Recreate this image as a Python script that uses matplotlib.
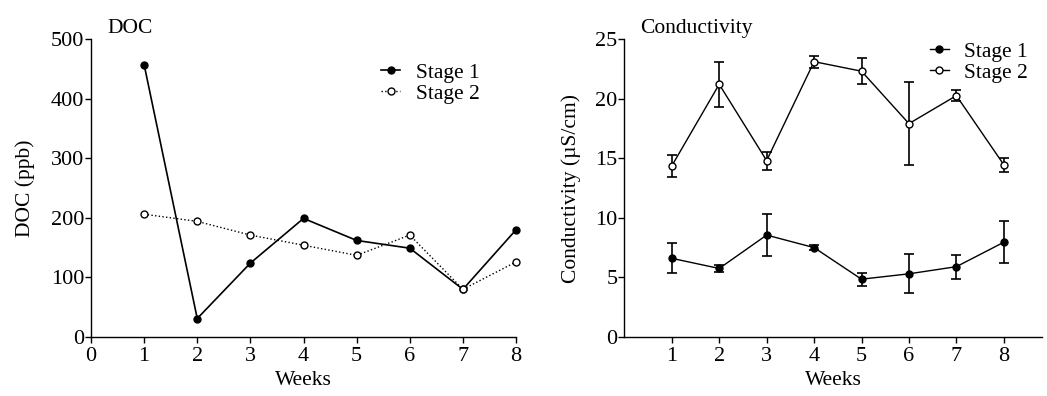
import matplotlib.pyplot as plt
import numpy as np

plt.rcParams['font.family'] = ['Liberation Serif', 'DejaVu Serif']

weeks = [1, 2, 3, 4, 5, 6, 7, 8]

# DOC (ppb)
doc_stage1 = [457, 31, 124, 199, 162, 149, 80, 180]
doc_stage2 = [206, 194, 171, 154, 137, 171, 80, 126]

# Conductivity (uS/cm) with error bars
cond_stage1 = [6.6, 5.75, 8.55, 7.5, 4.85, 5.3, 5.9, 7.95]
cond_stage1_err = [1.25, 0.3, 1.75, 0.2, 0.55, 1.65, 1.0, 1.75]
cond_stage2 = [14.35, 21.2, 14.8, 23.1, 22.3, 17.9, 20.25, 14.45]
cond_stage2_err = [0.9, 1.9, 0.75, 0.5, 1.1, 3.5, 0.45, 0.6]

FS = 15.5

fig = plt.figure(figsize=(10.47, 3.96), dpi=100)
ax1 = fig.add_axes([0.0869, 0.149, 0.406, 0.7525])
ax2 = fig.add_axes([0.5963, 0.149, 0.3987, 0.7525])

def style(ax):
    for s in ['top', 'right']:
        ax.spines[s].set_visible(False)
    for s in ['left', 'bottom']:
        ax.spines[s].set_linewidth(1.0)
    ax.tick_params(direction='out', length=4, width=1, labelsize=16)
    ax.tick_params(axis='y', pad=1)
    ax.tick_params(axis='x', pad=3)

# left panel
ax1.plot(weeks, doc_stage1, '-', color='black', lw=1.2, marker='o', ms=5,
         mfc='black', mec='black', label='Stage 1', clip_on=False, zorder=3)
ax1.plot(weeks, doc_stage2, ':', color='black', lw=1.0, marker='o', ms=5,
         mfc='white', mec='black', label='Stage 2', clip_on=False, zorder=3)
ax1.set_xlim(0, 8)
ax1.set_ylim(0, 500)
ax1.set_xticks(range(0, 9))
ax1.set_yticks([0, 100, 200, 300, 400, 500])
ax1.set_xlabel('Weeks', fontsize=FS, labelpad=4)
ax1.set_ylabel('DOC (ppb)', fontsize=FS, labelpad=11)
style(ax1)
ax1.text(0.038, 1.005, 'DOC', transform=ax1.transAxes, fontsize=FS, ha='left', va='bottom')
ax1.legend(loc='upper left', bbox_to_anchor=(0.364, 0.842), bbox_transform=fig.transFigure,
           frameon=False, fontsize=FS, handlelength=0.9, handletextpad=0.7,
           labelspacing=0.05, borderpad=0, borderaxespad=0)

# right panel
eb1 = ax2.errorbar(weeks, cond_stage1, yerr=cond_stage1_err, fmt='-o', color='black', lw=1.0,
                   ms=5, mfc='black', mec='black', capsize=3.5, elinewidth=1.2, capthick=1.2,
                   zorder=3)
eb2 = ax2.errorbar(weeks, cond_stage2, yerr=cond_stage2_err, fmt='-o', color='black', lw=1.0,
                   ms=5, mfc='white', mec='black', capsize=3.5, elinewidth=1.2, capthick=1.2,
                   zorder=3)
ax2.set_xlim(0, 8.8)
ax2.set_ylim(0, 25)
ax2.set_xticks(weeks)
ax2.set_yticks([0, 5, 10, 15, 20, 25])
ax2.set_xlabel('Weeks', fontsize=FS, labelpad=4)
ax2.set_ylabel('Conductivity (\u00b5S/cm)', fontsize=FS, labelpad=10)
style(ax2)
ax2.text(0.038, 1.005, 'Conductivity', transform=ax2.transAxes, fontsize=FS, ha='left', va='bottom')
ax2.legend([eb1[0], eb2[0]], ['Stage 1', 'Stage 2'], loc='upper left',
           bbox_to_anchor=(0.888, 0.895), bbox_transform=fig.transFigure,
           frameon=False, fontsize=FS, handlelength=0.9, handletextpad=0.7,
           labelspacing=0.05, borderpad=0, borderaxespad=0)

fig.savefig('out.png', dpi=100)
